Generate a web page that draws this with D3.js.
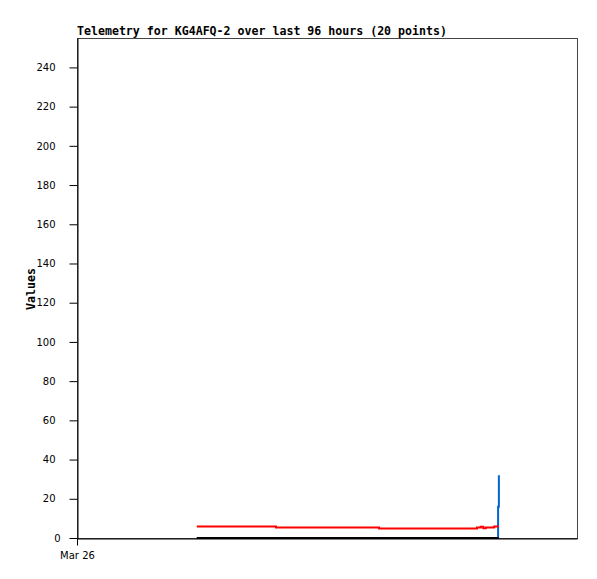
<!DOCTYPE html>
<html>
<head>
<meta charset="utf-8">
<script src="https://cdn.jsdelivr.net/npm/d3@7"></script>
<style>
  html, body { margin: 0; padding: 0; background: #fff; }
  svg { display: block; }
</style>
</head>
<body>
<svg id="chart" width="597" height="579"></svg>
<script>
// ---- data ----
const titleText = "Telemetry for KG4AFQ-2 over last 96 hours (20 points)";
const yLabel = "Values";
const domainStart = "2024-03-26T00:00:00Z";
const domainEnd = "2024-03-30T00:00:00Z";
const times = [
  "2024-03-26T23:00:00Z", "2024-03-27T14:12:00Z", "2024-03-28T10:00:00Z", "2024-03-29T04:48:00Z",
  "2024-03-29T05:30:00Z", "2024-03-29T06:00:00Z", "2024-03-29T06:30:00Z", "2024-03-29T07:00:00Z",
  "2024-03-29T07:24:00Z", "2024-03-29T07:48:00Z", "2024-03-29T08:06:00Z", "2024-03-29T08:18:00Z",
  "2024-03-29T08:30:00Z", "2024-03-29T08:36:00Z", "2024-03-29T08:42:00Z", "2024-03-29T08:48:00Z",
  "2024-03-29T08:51:00Z", "2024-03-29T08:54:00Z", "2024-03-29T08:57:00Z", "2024-03-29T09:00:00Z"
];
const blackSeries = [0,0,0,0,0,0,0,0,0,0,0,0,0,0,0,0,0,0,0,0];
const redSeries   = [5.9,5.4,4.9,5.3,5.8,5.0,5.4,5.4,5.4,5.4,5.9,5.9,5.9,5.9,5.9,5.9,5.9,5.9,5.9,5.9];
const blueSeries  = [0,0,0,0,0,0,0,0,0,0,0,0,0,0,0,0,16,16,16,32];
const yTicks = [0,20,40,60,80,100,120,140,160,180,200,220,240];
const yMax = 255;

// ---- layout ----
const svg = d3.select("#chart");
const L = 77, R = 577, T = 38, B = 538;
const x = d3.scaleUtc().domain([new Date(domainStart), new Date(domainEnd)]).range([L, R]);
const y = d3.scaleLinear().domain([0, yMax]).range([B, T]);

const monoFont = "'DejaVu Sans Mono', monospace";

// frame
svg.append("rect").attr("x", L + 0.5).attr("y", T + 0.5)
  .attr("width", R - L).attr("height", B - T)
  .attr("fill", "none").attr("stroke", "#444").attr("stroke-width", 1);

// y axis
const yAxis = svg.append("g").attr("transform", `translate(${L + 0.5},0)`)
  .call(d3.axisLeft(y).tickValues(yTicks).tickSize(8).tickSizeOuter(0).tickPadding(14)
    .tickFormat(d3.format("d")));
yAxis.select(".domain").attr("stroke", "#000");
yAxis.selectAll(".tick line").attr("stroke", "#000");
yAxis.selectAll(".tick text")
  .attr("font-family", "'DejaVu Sans', sans-serif").attr("font-size", 10).attr("fill", "#000")
  .attr("dx", d => d === 0 ? 5 : 0);

// x axis
const xAxis = svg.append("g").attr("transform", `translate(0,${B + 0.5})`)
  .call(d3.axisBottom(x).tickValues([new Date(domainStart)]).tickSize(7).tickSizeOuter(0).tickPadding(6)
    .tickFormat(d3.utcFormat("%b %d")));
xAxis.select(".domain").attr("stroke", "#000");
xAxis.selectAll(".tick line").attr("stroke", "#000");
xAxis.selectAll(".tick text")
  .attr("font-family", "'DejaVu Sans', sans-serif").attr("font-size", 10).attr("fill", "#000");

// lines
const data = times.map((t, i) => ({ t: new Date(t), k: blackSeries[i], r: redSeries[i], b: blueSeries[i] }));
const mk = key => d3.line().curve(d3.curveStepAfter).x(d => x(d.t)).y(d => y(d[key]));

svg.append("path").datum(data).attr("d", mk("b"))
  .attr("fill", "none").attr("stroke", "#0066cc").attr("stroke-width", 2);
svg.append("path").datum(data).attr("d", mk("k"))
  .attr("fill", "none").attr("stroke", "#000").attr("stroke-width", 2);
svg.append("path").datum(data).attr("d", mk("r"))
  .attr("fill", "none").attr("stroke", "#ff0000").attr("stroke-width", 2);

// title
svg.append("text").attr("x", L).attr("y", 35)
  .attr("font-family", monoFont).attr("font-weight", "bold").attr("font-size", 11.6)
  .attr("fill", "#000").text(titleText);

// y label
svg.append("text").attr("transform", `translate(35,${(T + B) / 2 + 1}) rotate(-90)`)
  .attr("text-anchor", "middle")
  .attr("font-family", monoFont).attr("font-weight", "bold").attr("font-size", 11.6)
  .attr("fill", "#000").text(yLabel);
</script>
</body>
</html>
